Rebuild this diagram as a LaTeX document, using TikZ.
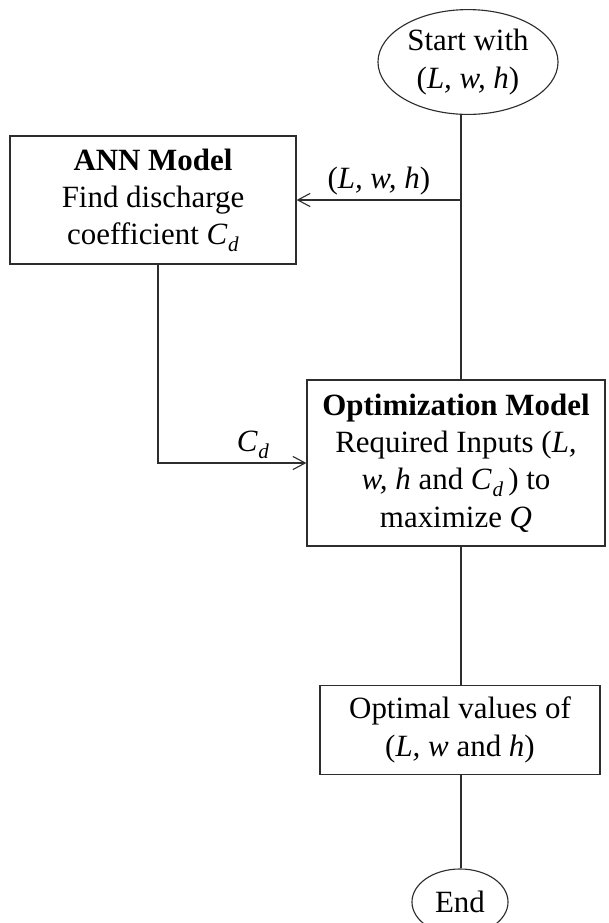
\documentclass[tikz,border=0pt]{standalone}
\usepackage{fontspec}
\setmainfont{Liberation Serif}
\usetikzlibrary{arrows.meta,shapes.geometric}
\definecolor{linecol}{RGB}{45,45,45}
\newcommand{\Cd}{\textit{C}\kern0.5pt\raisebox{-0.45ex}{\fontsize{15}{15}\selectfont\textit{d}}}
\newcommand{\lwh}{(\textit{L, w, h})}
\tikzset{
  flowbox/.style = {draw=linecol, rectangle, align=center, inner sep=0pt, text centered,
    font=\fontsize{22}{26.5}\selectfont},
  terminal/.style = {flowbox, ellipse},
  flowlabel/.style = {font=\fontsize{22}{26.5}\selectfont, inner sep=3pt},
}

\begin{document}
\begin{tikzpicture}[x=0.025cm,y=-0.025cm,-,>={Straight Barb[length=3.1mm,width=3.3mm]},
  line width=0.8pt,draw=linecol]
\useasboundingbox (0,0) rectangle (608,923);
\node [terminal, minimum width=4.5cm, minimum height=2.62cm] (start) at (468,62) {Start with\\ \lwh};
\node [flowbox, minimum width=7.15cm, minimum height=3.2cm] (ann) at (153,200)
  {\textbf{ANN Model}\\ Find discharge\\ coefficient \Cd};
\node [flowbox, minimum width=7.45cm, minimum height=4.15cm] (opt) at (456,463)
  {\textbf{Optimization Model}\\ Required Inputs (\textit{L,}\\ \textit{w, h} and \Cd\,) to\\ maximize \textit{Q}};
\node [flowbox, minimum width=7cm, minimum height=2.22cm] (optimal) at (460,730)
  {Optimal values of\\ (\textit{L, w} and \textit{h})};
\node [terminal, minimum width=2.4cm, minimum height=1.65cm] (end) at (460,902) {End};
\coordinate (spine) at (461,0);

\draw (spine |- start.south) -- (spine |- opt.north);
\draw [->] (spine |- ann.east) -- (ann.east) node [flowlabel, midway, above] {\lwh};
\draw [->] ([xshift=0.125cm] ann.south) |- (opt.west) node [flowlabel, pos=0.82, above] {\Cd};
\draw (spine |- opt.south) -- (spine |- optimal.north);
\draw (spine |- optimal.south) -- (spine |- end.north);
\end{tikzpicture}
\end{document}
